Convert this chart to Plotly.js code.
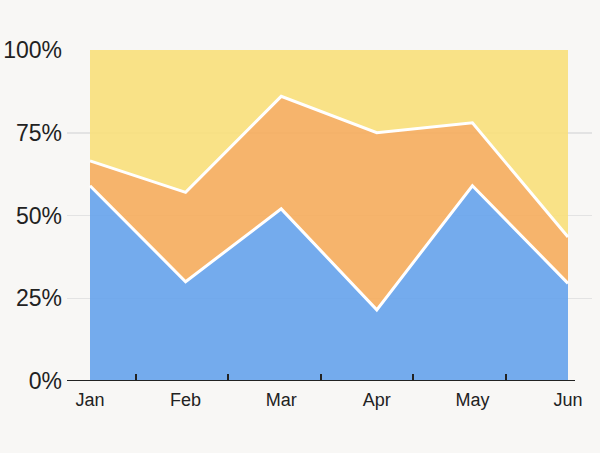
<!DOCTYPE html>
<html>
<head>
<meta charset="utf-8">
<script src="https://cdn.plot.ly/plotly-3.0.1.min.js"></script>
<style>
html,body{margin:0;padding:0;background:#f8f7f5;}
#chart{width:600px;height:453px;}
</style>
</head>
<body>
<div id="chart"></div>
<script>
const months = ["Jan", "Feb", "Mar", "Apr", "May", "Jun"];
const seriesA = [59, 30, 52, 21.5, 59, 29.5];
const seriesB = [7.5, 27, 34, 53.5, 19, 14];
const seriesC = [33.5, 43, 14, 25, 22, 56.5];
const yTicks = [0, 25, 50, 75, 100];

const idx = months.map((m, i) => i);

function area(vals, color, lw) {
  return {
    x: idx, y: vals, type: "scatter", mode: "lines",
    stackgroup: "one", groupnorm: "percent",
    line: {color: "#ffffff", width: lw, shape: "linear"},
    fillcolor: color, hoverinfo: "skip", showlegend: false
  };
}

const data = [
  area(seriesA, "rgba(104,164,236,0.92)", 3),
  area(seriesB, "rgba(245,174,95,0.92)", 3),
  area(seriesC, "rgba(249,224,125,0.92)", 0),
  {x: [0], y: [0], xaxis: "x2", yaxis: "y", mode: "markers",
   marker: {opacity: 0}, hoverinfo: "skip", showlegend: false}
];

const font = "Liberation Sans, Arial, Helvetica, sans-serif";
const xr = [-0.2406, 5.251];
const layout = {
  width: 600, height: 453,
  margin: {l: 67, r: 8, t: 50, b: 72},
  paper_bgcolor: "#f8f7f5", plot_bgcolor: "#f8f7f5",
  font: {family: font, color: "#222222"},
  xaxis: {
    range: xr, tickmode: "array", tickvals: idx, ticktext: months,
    showgrid: false, zeroline: false, showline: false, ticks: "",
    tickfont: {size: 18, color: "#222222"}, ticklabelstandoff: 6, fixedrange: true
  },
  xaxis2: {
    overlaying: "x", range: xr, tickmode: "array",
    tickvals: [0.481, 1.444, 2.416, 3.379, 4.351],
    showticklabels: false, ticks: "inside", ticklen: 7, tickwidth: 1.5,
    tickcolor: "#222222", showgrid: false, zeroline: false, showline: false,
    side: "bottom", anchor: "y"
  },
  yaxis: {
    range: [0, 100], tickmode: "array", tickvals: yTicks,
    ticktext: yTicks.map(v => v + "%"),
    showgrid: true, gridcolor: "#e3e3e3", gridwidth: 1.5,
    zeroline: false, showline: false, ticks: "",
    tickfont: {size: 23, color: "#222222"}, ticklabelstandoff: 4, fixedrange: true
  },
  shapes: [{
    type: "line", xref: "paper", yref: "y", x0: 0, x1: (575 - 67) / 525, y0: 0, y1: 0,
    line: {color: "#222222", width: 2}
  }]
};

Plotly.newPlot("chart", data, layout, {displayModeBar: false, staticPlot: true});
</script>
</body>
</html>
